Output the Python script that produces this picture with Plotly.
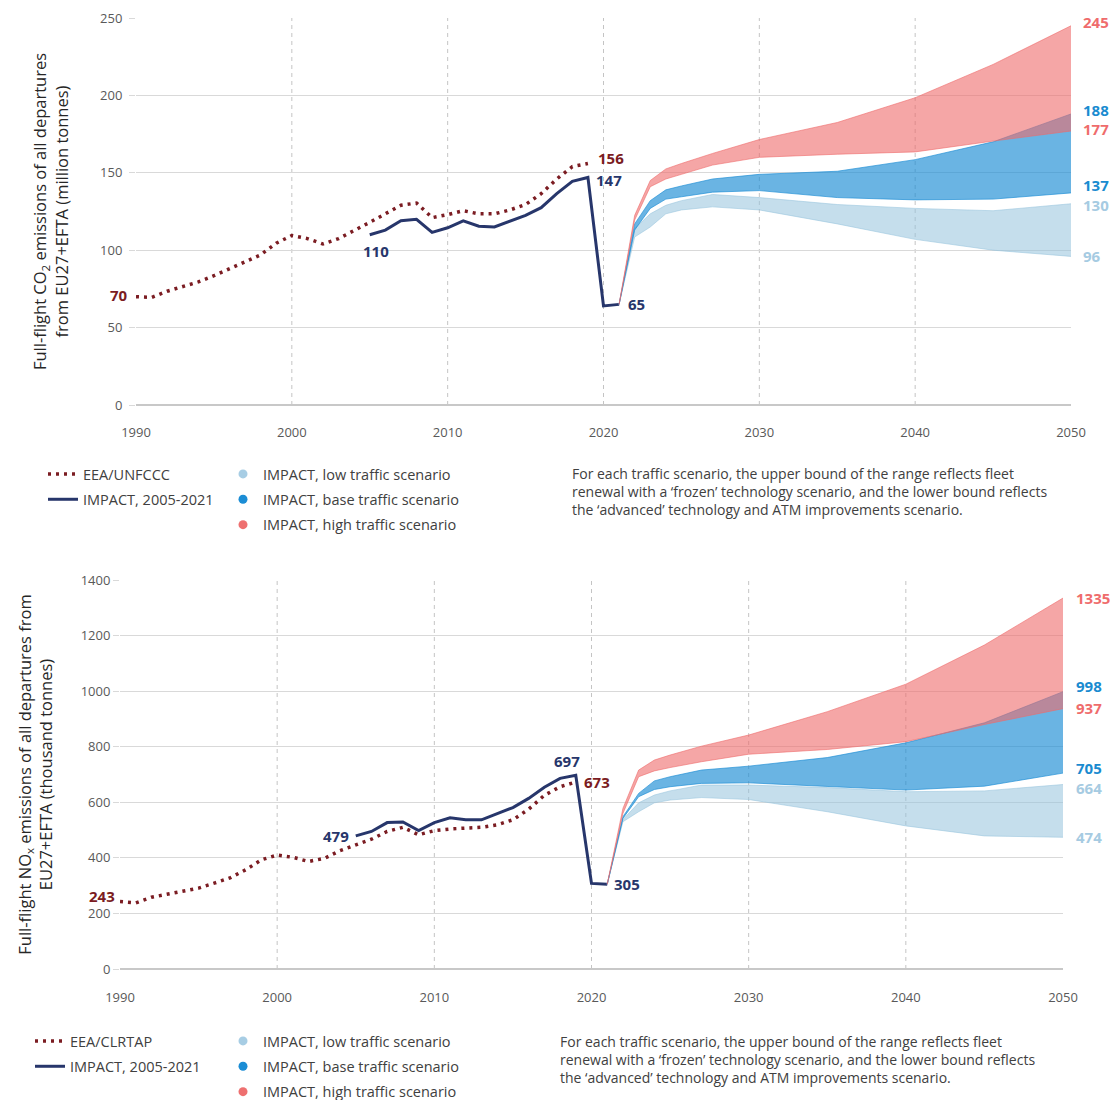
import plotly.graph_objects as go

# ---------------- data ----------------
years_hist = list(range(1990, 2020))
years_impact = list(range(2005, 2022))
years_proj = [2021, 2022, 2023, 2024, 2025, 2027, 2030, 2035, 2040, 2045, 2050]

co2_eea = [70, 69.5, 73.5, 76.5, 79.5, 83.5, 88, 92.5, 97, 104.5, 109.5, 107.5, 104, 107.5, 112.5,
           118, 123.5, 129, 130.5, 121, 123, 125.5, 123.5, 123.5, 126, 129.5, 136.5, 146, 154, 156]
co2_impact = [110, 113, 119, 120, 111.5, 114.5, 119, 115.5, 115, 119, 122.5, 127.5, 136.5, 144.5, 147, 64, 65]

co2_high_up = [65, 122.5, 145, 152.5, 156, 162.5, 171.5, 182.5, 198.5, 220, 245]
co2_high_lo = [65, 119.5, 141, 146, 149, 155, 160, 162, 163.5, 170.5, 177]
co2_base_up = [65, 117, 132, 139, 141.5, 146, 149, 151, 158.5, 170, 188]
co2_base_lo = [65, 113, 127, 133, 134.5, 137.5, 138.5, 134, 132.5, 133, 137]
co2_low_up = [65, 114, 123.5, 129, 132, 136, 134, 129.5, 127, 125.5, 130]
co2_low_lo = [65, 108.5, 115, 123.5, 126, 128, 126, 117, 107, 100, 96]

nox_eea = [243, 238, 258, 270, 280, 291, 309, 328, 357, 393, 410, 402, 387, 398, 426,
           448, 467, 495, 510, 483, 498, 504, 507, 510, 519, 537, 575, 625, 656, 673]
nox_impact = [479, 495, 527, 529, 498, 527, 544, 537, 537, 558, 581, 614, 654, 686, 697, 308, 305]

nox_high_up = [305, 578, 716, 752, 770, 802, 842, 926, 1025, 1166, 1335]
nox_high_lo = [305, 560, 692, 713, 725, 746, 773, 790, 818, 880, 937]
nox_base_up = [305, 548, 632, 677, 692, 716, 730, 761, 814, 886, 998]
nox_base_lo = [305, 542, 620, 646, 656, 668, 670, 658, 644, 658, 705]
nox_low_up = [305, 538, 598, 626, 641, 662, 662, 653, 638, 641, 664]
nox_low_lo = [305, 530, 566, 598, 608, 617, 610, 566, 515, 479, 474]

x_ticks = [1990, 2000, 2010, 2020, 2030, 2040, 2050]
decade_lines = [2000, 2010, 2020, 2030, 2040]
co2_ticks = [0, 50, 100, 150, 200, 250]
nox_ticks = [0, 200, 400, 600, 800, 1000, 1200, 1400]

# ---------------- style ----------------
F = "Open Sans"
W, H = 1116, 1100
MAROON = "#7b1c22"
NAVY = "#27366b"
PINK = "#ee7070"
BLUE = "#1b8dd5"
LBLUE = "#a7cde4"
PINK_FILL = "rgba(238,107,107,0.6)"
BLUE_FILL = "rgba(26,140,212,0.65)"
LBLUE_FILL = "rgba(150,195,220,0.55)"
PINK_LBL = "#ef6c6c"
BLUE_LBL = "#1a8bd0"
LBLUE_LBL = "#a6cbe2"

fig = go.Figure()


def add_chart(xa, ya, leg_hist, leg_band, hist_name, eea, impact, bands):
    fig.add_trace(go.Scatter(
        x=years_hist, y=eea, mode="lines", name=hist_name,
        line=dict(color=MAROON, width=3.5, dash="3px,5px"),
        xaxis=xa, yaxis=ya, legend=leg_hist, legendgroup=leg_hist + "a", legendrank=1,
        hoverinfo="skip"))
    fig.add_trace(go.Scatter(
        x=years_impact, y=impact, mode="lines", name="IMPACT, 2005-2021",
        line=dict(color=NAVY, width=3),
        xaxis=xa, yaxis=ya, legend=leg_hist, legendgroup=leg_hist + "b", legendrank=2,
        hoverinfo="skip"))
    for (lo, up, lc, fc) in bands:
        fig.add_trace(go.Scatter(
            x=years_proj, y=lo, mode="lines", line=dict(color=fc, width=1),
            xaxis=xa, yaxis=ya, showlegend=False, hoverinfo="skip"))
        fig.add_trace(go.Scatter(
            x=years_proj, y=up, mode="lines", line=dict(color=fc, width=1),
            fill="tonexty", fillcolor=fc,
            xaxis=xa, yaxis=ya, showlegend=False, hoverinfo="skip"))
    names = ["IMPACT, low traffic scenario", "IMPACT, base traffic scenario", "IMPACT, high traffic scenario"]
    for i, (nm, (_, _, lc, _)) in enumerate(zip(names, bands)):
        fig.add_trace(go.Scatter(
            x=[None], y=[None], mode="markers", name=nm,
            marker=dict(color=lc, size=9),
            xaxis=xa, yaxis=ya, legend=leg_band, legendgroup=leg_band + str(i), legendrank=i + 1))


add_chart("x", "y", "legend", "legend2", "EEA/UNFCCC", co2_eea, co2_impact,
          [(co2_low_lo, co2_low_up, LBLUE, LBLUE_FILL),
           (co2_base_lo, co2_base_up, BLUE, BLUE_FILL),
           (co2_high_lo, co2_high_up, PINK, PINK_FILL)])
add_chart("x2", "y2", "legend3", "legend4", "EEA/CLRTAP", nox_eea, nox_impact,
          [(nox_low_lo, nox_low_up, LBLUE, LBLUE_FILL),
           (nox_base_lo, nox_base_up, BLUE, BLUE_FILL),
           (nox_high_lo, nox_high_up, PINK, PINK_FILL)])

# ---------------- annotations ----------------
ann = []


def lab(xref, yref, x, y, val, color, xanchor, xshift=0, yshift=0):
    ann.append(dict(x=x, y=y, xref=xref, yref=yref, text=str(int(round(val))), showarrow=False,
                    xanchor=xanchor, yanchor="middle", xshift=xshift, yshift=yshift,
                    font=dict(family=F, size=15, color=color, weight="bold")))


# top chart value labels
lab("x", "y", years_hist[0], co2_eea[0], co2_eea[0], MAROON, "right", -6, 2)
lab("x", "y", years_hist[-1], co2_eea[-1], co2_eea[-1], MAROON, "left", 8, 6)
lab("x", "y", 2019, co2_impact[14], co2_impact[14], NAVY, "left", 6, -3)
lab("x", "y", years_impact[0], co2_impact[0], co2_impact[0], NAVY, "center", 6, -16)
lab("x", "y", years_impact[-1], co2_impact[-1], co2_impact[-1], NAVY, "left", 7, 0)
for v, c, ys in [(co2_high_up[-1], PINK_LBL, 4), (co2_base_up[-1], BLUE_LBL, 4),
                 (co2_high_lo[-1], PINK_LBL, 2), (co2_base_lo[-1], BLUE_LBL, 8),
                 (co2_low_up[-1], LBLUE_LBL, -1), (co2_low_lo[-1], LBLUE_LBL, 0)]:
    lab("x", "y", years_proj[-1], v, v, c, "left", 10, ys)

# bottom chart value labels
lab("x2", "y2", years_hist[0], nox_eea[0], nox_eea[0], MAROON, "right", -3, 5)
lab("x2", "y2", years_hist[-1], nox_eea[-1], nox_eea[-1], MAROON, "left", 6, 0)
lab("x2", "y2", 2019, nox_impact[14], nox_impact[14], NAVY, "center", -9, 14)
lab("x2", "y2", years_impact[0], nox_impact[0], nox_impact[0], NAVY, "right", -5, 0)
lab("x2", "y2", years_impact[-1], nox_impact[-1], nox_impact[-1], NAVY, "left", 5, 0)
for v, c, ys in [(nox_high_up[-1], PINK_LBL, 0), (nox_base_up[-1], BLUE_LBL, 6),
                 (nox_high_lo[-1], PINK_LBL, 1), (nox_base_lo[-1], BLUE_LBL, 5),
                 (nox_low_up[-1], LBLUE_LBL, -3), (nox_low_lo[-1], LBLUE_LBL, 0)]:
    lab("x2", "y2", years_proj[-1], v, v, c, "left", 11, ys)

note = ("For each traffic scenario, the upper bound of the range reflects fleet<br>"
        "renewal with a \u2018frozen\u2019 technology scenario, and the lower bound reflects<br>"
        "the \u2018advanced\u2019 technology and ATM improvements scenario.")
for nx, ny in [(570, 462), (558, 1030)]:
    ann.append(dict(x=nx / W, y=1 - ny / H, xref="paper", yref="paper", text=note, showarrow=False,
                    xanchor="left", yanchor="top", align="left",
                    font=dict(family=F, size=14, color="#404040")))

# dashed vertical gridlines
shapes = []
for xa in ["x", "x2"]:
    for yr in decade_lines:
        shapes.append(dict(type="line", xref=xa, yref=("y" if xa == "x" else "y2") + " domain",
                           x0=yr, x1=yr, y0=0, y1=1, layer="below",
                           line=dict(color="#c4c4c4", width=1, dash="4px,4px")))

axis_common = dict(showline=False, zeroline=False, automargin=False,
                   tickfont=dict(family=F, size=13, color="#595959"))
xcommon = dict(axis_common, range=[1990, 2050], tickvals=x_ticks, showgrid=False, ticks="")
ycommon = dict(axis_common, showgrid=True, gridcolor="#d9d9d9", gridwidth=1,
               ticks="outside", ticklen=6, tickcolor="#d9d9d9",
               zeroline=True, zerolinecolor="#c8c8c8", zerolinewidth=1.5)

legend_common = dict(xanchor="left", yanchor="top", bgcolor="rgba(0,0,0,0)", borderwidth=0,
                     font=dict(family=F, size=14.5, color="#404040"), tracegroupgap=3.5,
                     orientation="v")

fig.update_layout(
    width=W, height=H, margin=dict(l=0, r=0, t=0, b=0, autoexpand=False),
    paper_bgcolor="white", plot_bgcolor="white",
    font=dict(family=F),
    xaxis=dict(xcommon, domain=[136 / W, 1071 / W], anchor="y", ticklabelstandoff=18),
    yaxis=dict(ycommon, domain=[1 - 405 / H, 1 - 18 / H], range=[0, 250], tickvals=co2_ticks,
               anchor="x", ticklabelstandoff=4,
               title=dict(text="Full-flight CO<sub>2</sub> emissions of all departures<br>"
                               "from EU27+EFTA (million tonnes)",
                          font=dict(family=F, size=16.5, color="#262626"), standoff=27)),
    xaxis2=dict(xcommon, domain=[120 / W, 1063 / W], anchor="y2", ticklabelstandoff=19),
    yaxis2=dict(ycommon, domain=[1 - 969 / H, 1 - 580 / H], range=[0, 1400], tickvals=nox_ticks,
                anchor="x2", ticklabelstandoff=0,
                title=dict(text="Full-flight NO<sub>x</sub> emissions of all departures from<br>"
                                "EU27+EFTA (thousand tonnes)",
                           font=dict(family=F, size=16.5, color="#262626"), standoff=23)),
    legend=dict(legend_common, x=43 / W, y=1 - 458 / H),
    legend2=dict(legend_common, x=223 / W, y=1 - 458 / H),
    legend3=dict(legend_common, x=30 / W, y=1 - 1025 / H),
    legend4=dict(legend_common, x=223 / W, y=1 - 1025 / H),
    annotations=ann,
    shapes=shapes,
    showlegend=True,
)

fig.write_html("out.html", config={"displayModeBar": False},
               post_script="document.body.style.margin='0';document.body.style.overflow='hidden';")
